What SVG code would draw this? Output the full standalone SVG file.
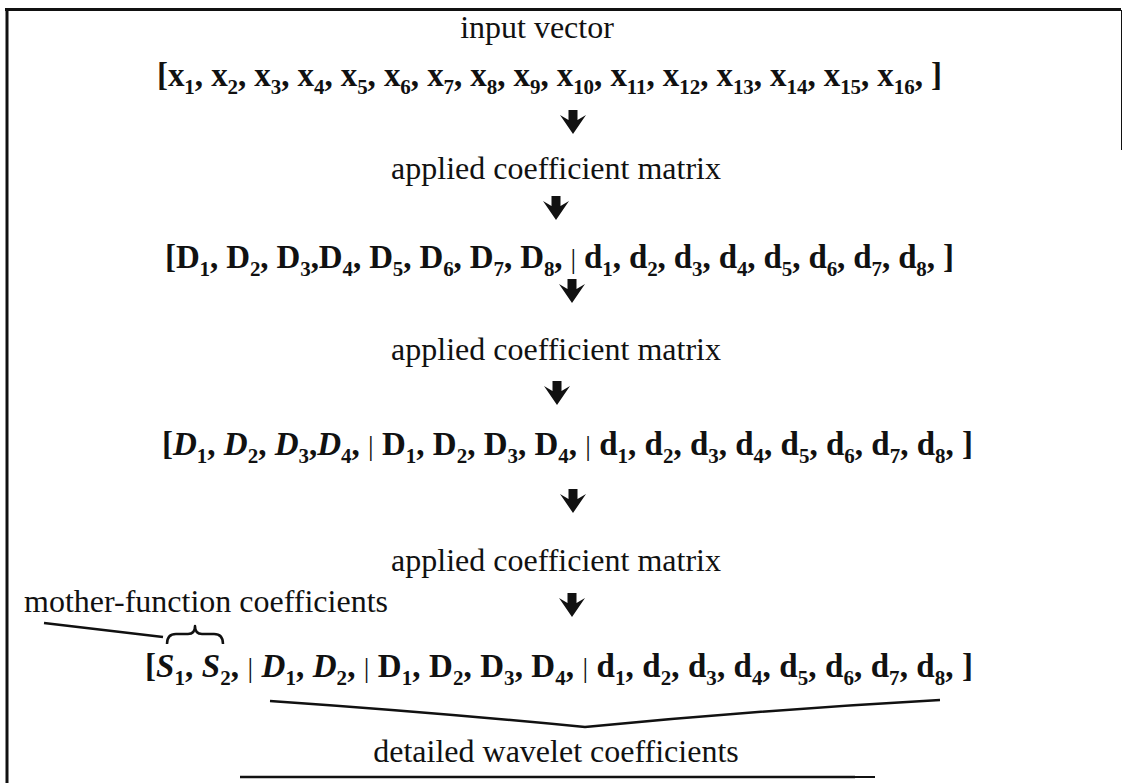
<svg xmlns="http://www.w3.org/2000/svg" width="1123" height="783" viewBox="0 0 1123 783">
  <style>
    .lbl { font-family: "Liberation Serif", "Times New Roman", serif; font-size: 32px; fill: #111; }
    .row { font-family: "Liberation Serif", "Times New Roman", serif; font-size: 33px; font-weight: bold; fill: #111; }
    .s { font-size: 21px; }
    .it { font-style: italic; }
    .bar { font-weight: normal; font-size: 28px; }
    .frame { stroke: #111; fill: none; }
    .conn { stroke: #111; stroke-width: 2.5; fill: none; stroke-linejoin: round; }
  </style>
  <defs>
    <!-- bold down arrow, tip at (0,24) -->
    <polygon id="dn" points="-4.5,0 4.5,0 4.5,10 13,5 0,24 -13,5 -4.5,10" fill="#111"/>
  </defs>
  <rect width="1123" height="783" fill="#fff"/>

  <!-- page frame -->
  <g id="frame">
    <line class="frame" x1="5" y1="9.5" x2="1121" y2="9.5" stroke-width="3"/>
    <line class="frame" x1="7" y1="9" x2="7" y2="783" stroke-width="3"/>
    <line class="frame" x1="1121.5" y1="10" x2="1121.5" y2="150" stroke-width="1" stroke="#777"/>
    <line class="frame" x1="240" y1="777" x2="855" y2="777" stroke-width="2.5"/>
    <line class="frame" x1="855" y1="777" x2="875" y2="777" stroke-width="2" stroke="#888"/>
  </g>

  <g id="input-label"><text class="lbl" x="537" y="38" text-anchor="middle">input vector</text></g>

  <g id="row-x">
    <text class="row" x="157" y="86" textLength="785" lengthAdjust="spacing">[x<tspan class="s" dy="8">1</tspan><tspan dy="-8">, x</tspan><tspan class="s" dy="8">2</tspan><tspan dy="-8">, x</tspan><tspan class="s" dy="8">3</tspan><tspan dy="-8">, x</tspan><tspan class="s" dy="8">4</tspan><tspan dy="-8">, x</tspan><tspan class="s" dy="8">5</tspan><tspan dy="-8">, x</tspan><tspan class="s" dy="8">6</tspan><tspan dy="-8">, x</tspan><tspan class="s" dy="8">7</tspan><tspan dy="-8">, x</tspan><tspan class="s" dy="8">8</tspan><tspan dy="-8">, x</tspan><tspan class="s" dy="8">9</tspan><tspan dy="-8">, x</tspan><tspan class="s" dy="8">10</tspan><tspan dy="-8">, x</tspan><tspan class="s" dy="8">11</tspan><tspan dy="-8">, x</tspan><tspan class="s" dy="8">12</tspan><tspan dy="-8">, x</tspan><tspan class="s" dy="8">13</tspan><tspan dy="-8">, x</tspan><tspan class="s" dy="8">14</tspan><tspan dy="-8">, x</tspan><tspan class="s" dy="8">15</tspan><tspan dy="-8">, x</tspan><tspan class="s" dy="8">16</tspan><tspan dy="-8">, ]</tspan></text>
  </g>

  <g id="step-1"><text class="lbl" x="556" y="179" text-anchor="middle">applied coefficient matrix</text></g>

  <g id="row-level1">
    <text class="row" x="165" y="268" textLength="789" lengthAdjust="spacing">[D<tspan class="s" dy="8">1</tspan><tspan dy="-8">, D</tspan><tspan class="s" dy="8">2</tspan><tspan dy="-8">, D</tspan><tspan class="s" dy="8">3</tspan><tspan dy="-8">,D</tspan><tspan class="s" dy="8">4</tspan><tspan dy="-8">, D</tspan><tspan class="s" dy="8">5</tspan><tspan dy="-8">, D</tspan><tspan class="s" dy="8">6</tspan><tspan dy="-8">, D</tspan><tspan class="s" dy="8">7</tspan><tspan dy="-8">, D</tspan><tspan class="s" dy="8">8</tspan><tspan dy="-8">, </tspan><tspan class="bar">|</tspan> d<tspan class="s" dy="8">1</tspan><tspan dy="-8">, d</tspan><tspan class="s" dy="8">2</tspan><tspan dy="-8">, d</tspan><tspan class="s" dy="8">3</tspan><tspan dy="-8">, d</tspan><tspan class="s" dy="8">4</tspan><tspan dy="-8">, d</tspan><tspan class="s" dy="8">5</tspan><tspan dy="-8">, d</tspan><tspan class="s" dy="8">6</tspan><tspan dy="-8">, d</tspan><tspan class="s" dy="8">7</tspan><tspan dy="-8">, d</tspan><tspan class="s" dy="8">8</tspan><tspan dy="-8">, ]</tspan></text>
  </g>

  <g id="step-2"><text class="lbl" x="556" y="360" text-anchor="middle">applied coefficient matrix</text></g>

  <g id="row-level2">
    <text class="row" x="162" y="455" textLength="811" lengthAdjust="spacing">[<tspan class="it">D</tspan><tspan class="s" dy="8">1</tspan><tspan dy="-8">, </tspan><tspan class="it">D</tspan><tspan class="s" dy="8">2</tspan><tspan dy="-8">, </tspan><tspan class="it">D</tspan><tspan class="s" dy="8">3</tspan><tspan dy="-8">,</tspan><tspan class="it">D</tspan><tspan class="s" dy="8">4</tspan><tspan dy="-8">, </tspan><tspan class="bar">|</tspan> D<tspan class="s" dy="8">1</tspan><tspan dy="-8">, D</tspan><tspan class="s" dy="8">2</tspan><tspan dy="-8">, D</tspan><tspan class="s" dy="8">3</tspan><tspan dy="-8">, D</tspan><tspan class="s" dy="8">4</tspan><tspan dy="-8">, </tspan><tspan class="bar">|</tspan> d<tspan class="s" dy="8">1</tspan><tspan dy="-8">, d</tspan><tspan class="s" dy="8">2</tspan><tspan dy="-8">, d</tspan><tspan class="s" dy="8">3</tspan><tspan dy="-8">, d</tspan><tspan class="s" dy="8">4</tspan><tspan dy="-8">, d</tspan><tspan class="s" dy="8">5</tspan><tspan dy="-8">, d</tspan><tspan class="s" dy="8">6</tspan><tspan dy="-8">, d</tspan><tspan class="s" dy="8">7</tspan><tspan dy="-8">, d</tspan><tspan class="s" dy="8">8</tspan><tspan dy="-8">, ]</tspan></text>
  </g>

  <g id="step-3"><text class="lbl" x="556" y="571" text-anchor="middle">applied coefficient matrix</text></g>

  <g id="mother-label"><text class="lbl" x="24" y="612">mother-function coefficients</text></g>

  <g id="row-level3">
    <text class="row" x="145" y="677" textLength="828" lengthAdjust="spacing">[<tspan class="it">S</tspan><tspan class="s" dy="8">1</tspan><tspan dy="-8">, </tspan><tspan class="it">S</tspan><tspan class="s" dy="8">2</tspan><tspan dy="-8">, </tspan><tspan class="bar">|</tspan> <tspan class="it">D</tspan><tspan class="s" dy="8">1</tspan><tspan dy="-8">, </tspan><tspan class="it">D</tspan><tspan class="s" dy="8">2</tspan><tspan dy="-8">, </tspan><tspan class="bar">|</tspan> D<tspan class="s" dy="8">1</tspan><tspan dy="-8">, D</tspan><tspan class="s" dy="8">2</tspan><tspan dy="-8">, D</tspan><tspan class="s" dy="8">3</tspan><tspan dy="-8">, D</tspan><tspan class="s" dy="8">4</tspan><tspan dy="-8">, </tspan><tspan class="bar">|</tspan> d<tspan class="s" dy="8">1</tspan><tspan dy="-8">, d</tspan><tspan class="s" dy="8">2</tspan><tspan dy="-8">, d</tspan><tspan class="s" dy="8">3</tspan><tspan dy="-8">, d</tspan><tspan class="s" dy="8">4</tspan><tspan dy="-8">, d</tspan><tspan class="s" dy="8">5</tspan><tspan dy="-8">, d</tspan><tspan class="s" dy="8">6</tspan><tspan dy="-8">, d</tspan><tspan class="s" dy="8">7</tspan><tspan dy="-8">, d</tspan><tspan class="s" dy="8">8</tspan><tspan dy="-8">, ]</tspan></text>
  </g>

  <g id="detail-label"><text class="lbl" x="556" y="762" text-anchor="middle">detailed wavelet coefficients</text></g>

  <!-- connectors: step arrows, braces and leader lines -->
  <g id="connectors">
    <use href="#dn" x="573" y="110"/>
    <use href="#dn" x="556" y="196"/>
    <use href="#dn" x="572" y="279"/>
    <use href="#dn" x="557" y="381"/>
    <use href="#dn" x="573" y="489"/>
    <use href="#dn" x="572" y="593"/>
    <!-- brace over the two mother-function terms -->
    <path class="conn" d="M167,644 Q167,634 176,634 L188,634 Q195,634 195,626 Q195,634 202,634 L214,634 Q223,634 223,644"/>
    <line class="conn" x1="44" y1="623" x2="163" y2="637"/>
    <!-- underline gathering the detail terms -->
    <path class="conn" d="M270,701 Q430,712 585,727 Q760,710 940,700"/>
  </g>
</svg>
